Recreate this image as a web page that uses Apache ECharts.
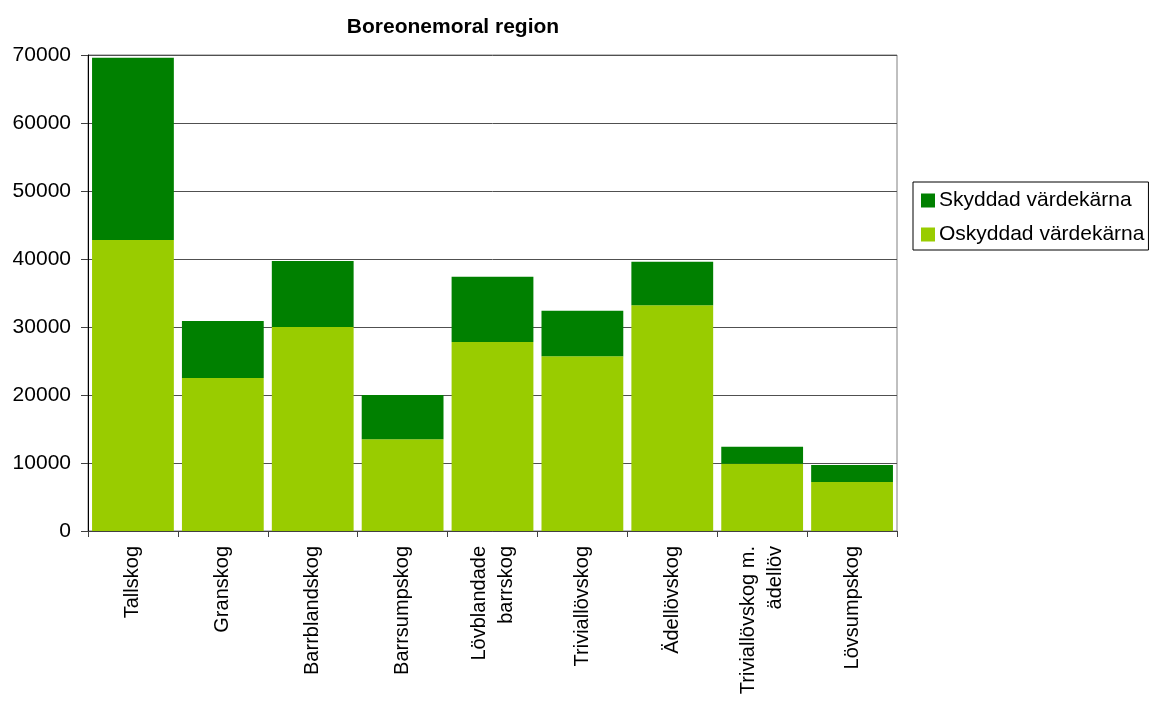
<!DOCTYPE html>
<html>
<head>
<meta charset="utf-8">
<style>
  html, body { margin: 0; padding: 0; background: #ffffff; }
  #chart { width: 1152px; height: 706px; }
</style>
<script src="https://cdn.jsdelivr.net/npm/echarts@6/dist/echarts.min.js"></script>
</head>
<body>
<div id="chart"></div>
<script>
// Forest types in the boreonemoral region
const categories = [
  'Tallskog', 'Granskog', 'Barrblandskog', 'Barrsumpskog',
  'Lövblandade\nbarrskog', 'Triviallövskog', 'Ädellövskog',
  'Triviallövskog m.\nädellöv', 'Lövsumpskog'
];
// Unprotected core areas (bottom of each stack)
const oskyddad = [42800, 22500, 30000, 13500, 27800, 25700, 33200, 9900, 7200];
// Protected core areas (top of each stack)
const skyddad = [26800, 8400, 9700, 6500, 9600, 6700, 6400, 2500, 2500];
const yTicks = { min: 0, max: 70000, interval: 10000 };

const font = 'Liberation Sans, Arial, sans-serif';
const chart = echarts.init(document.getElementById('chart'), null, { renderer: 'canvas' });

chart.setOption({
  animation: false,
  backgroundColor: '#ffffff',
  title: {
    text: 'Boreonemoral region',
    left: 448,
    textAlign: 'center',
    top: 12,
    textStyle: { fontFamily: font, fontSize: 21, fontWeight: 'bold', color: '#000' }
  },
  legend: {
    orient: 'vertical',
    left: 913,
    top: 182,
    padding: [8, 4, 5, 8],
    itemGap: 13,
    itemWidth: 14,
    itemHeight: 14,
    borderColor: '#000',
    borderWidth: 1,
    icon: 'rect',
    data: ['Skyddad värdekärna', 'Oskyddad värdekärna'],
    textStyle: { fontFamily: font, fontSize: 21, color: '#000', padding: [0, 0, 0, -1] }
  },
  grid: {
    left: 88,
    right: 1152 - 897,
    top: 55,
    bottom: 706 - 531,
    show: true,
    borderColor: '#808080',
    borderWidth: 1,
    backgroundColor: 'transparent',
    containLabel: false
  },
  xAxis: {
    type: 'category',
    data: categories,
    axisLine: { lineStyle: { color: '#404040', width: 1 } },
    axisTick: { show: true, length: 6, alignWithLabel: false, lineStyle: { color: '#404040' } },
    axisLabel: {
      rotate: 90,
      interval: 0,
      margin: 15,
      fontFamily: font,
      fontSize: 20,
      color: '#000',
      lineHeight: 27
    }
  },
  yAxis: {
    type: 'value',
    min: yTicks.min,
    max: yTicks.max,
    interval: yTicks.interval,
    axisLine: { show: true, lineStyle: { color: '#000', width: 1 } },
    axisTick: { show: true, inside: false, length: 7, lineStyle: { color: '#404040' } },
    axisLabel: {
      margin: 17,
      fontFamily: font,
      fontSize: 21,
      color: '#000',
      formatter: (v) => String(v)
    },
    splitLine: { show: true, lineStyle: { color: '#505050', width: 1 } }
  },
  series: [
    {
      name: 'Oskyddad värdekärna',
      type: 'bar',
      stack: 'total',
      data: oskyddad,
      barCategoryGap: '9%',
      itemStyle: { color: '#99cc00' }
    },
    {
      name: 'Skyddad värdekärna',
      type: 'bar',
      stack: 'total',
      data: skyddad,
      barCategoryGap: '9%',
      itemStyle: { color: '#008000' }
    }
  ]
});
</script>
</body>
</html>
